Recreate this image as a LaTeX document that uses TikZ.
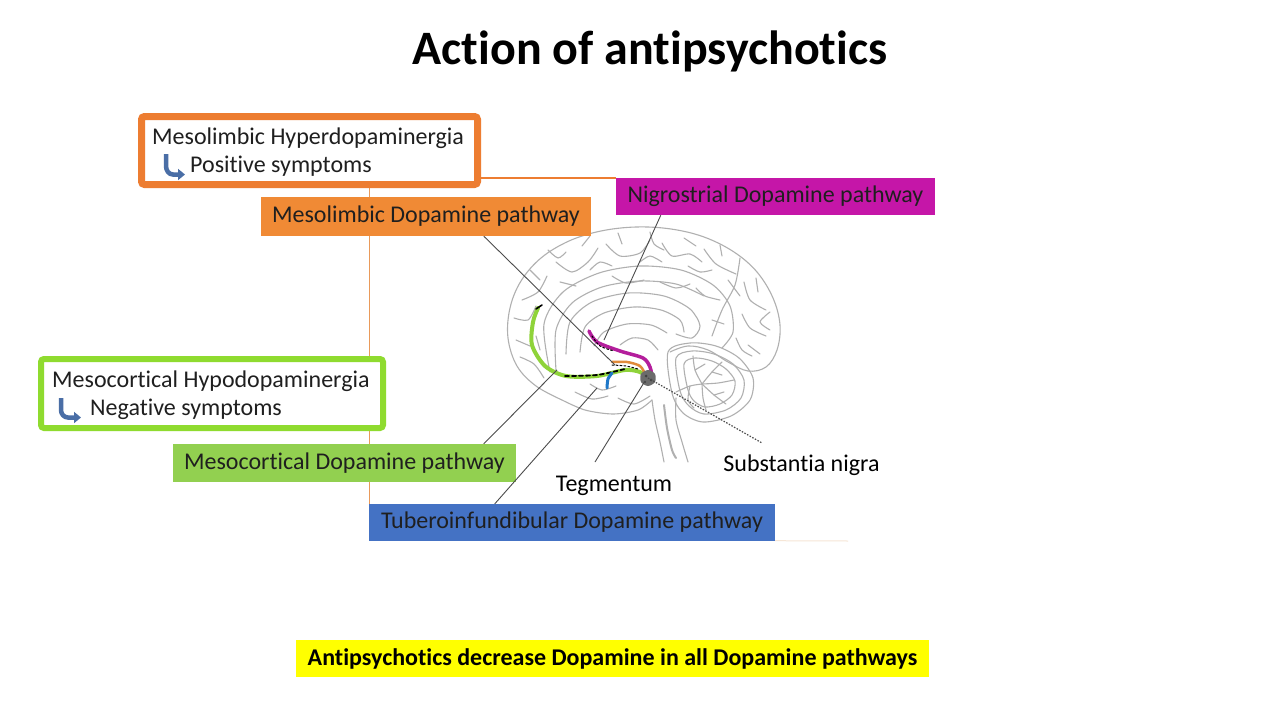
\documentclass[tikz,border=0pt]{standalone}
\usepackage{fontspec}
\setmainfont{Carlito}[Ligatures={NoCommon}]
\usetikzlibrary{arrows.meta,calc}
\definecolor{orgA}{HTML}{ED7D31}
\definecolor{orgFill}{HTML}{F08A35}
\definecolor{orgThin}{HTML}{E99A5A}
\definecolor{faint}{HTML}{F6E6D6}
\definecolor{mag}{HTML}{C516A8}
\definecolor{grnB}{HTML}{8FDB2F}
\definecolor{grnF}{HTML}{92D050}
\definecolor{bluF}{HTML}{4472C4}
\definecolor{yel}{HTML}{FFFF00}
\definecolor{brain}{HTML}{B0B0B0}
\definecolor{arw}{HTML}{4A6EA6}
\definecolor{pGreen}{HTML}{8FD33A}
\definecolor{pMag}{HTML}{B41E9C}
\definecolor{pOrg}{HTML}{E08A3A}
\definecolor{pBlue}{HTML}{1F78C8}
\pgfdeclarelayer{bg}
\pgfdeclarelayer{lines}
\pgfsetlayers{bg,lines,main}
\begin{document}
\begin{tikzpicture}[x=1pt,y=-1pt,
  lbl/.style={font=\fontsize{24}{28}\selectfont, text=black!88, inner sep=0pt},
  pbox/.style={lbl, inner sep=0pt, align=center},
  obox/.style={draw, fill=white, inner sep=0pt, rounded corners=3pt},
  brainline/.style={draw=brain, line width=1.1pt, line cap=round, line join=round},
  leader/.style={draw=black!70, line width=0.9pt},
  pathw/.style={line cap=round, line join=round},
  arwicon/.style={draw=arw, line width=4.5pt, -{Triangle[length=7pt,width=11pt]}}
]
\begin{pgfonlayer}{bg}
\fill[white] (0,0) rectangle (1280,720);
\end{pgfonlayer}
\useasboundingbox (0,0) rectangle (1280,720);

% ---------------- brain drawing ----------------
\begin{scope}[brainline]
% cerebrum outline
\draw plot[smooth, tension=0.6] coordinates {(562,400) (536,386) (517,366) (508,338) (510,308) (521,281) (541,258) (569,241) (601,231) (636,227) (671,229) (704,237) (734,252) (757,272) (773,298) (780,325) (777,350) (766,367) (748,371) (728,362) (708,350) (688,346) (670,352)};
% base / temporal
\draw plot[smooth] coordinates {(562,400) (585,410) (613,414) (638,410) (652,400)};
\draw plot[smooth] coordinates {(575,392) (592,399) (608,396)};
\draw plot[smooth] coordinates {(618,398) (634,404) (650,396)};
\draw plot[smooth] coordinates {(590,384) (602,390) (616,386)};
% brainstem
\draw plot[smooth] coordinates {(652,400) (655,420) (660,442) (664,462)};
\draw plot[smooth] coordinates {(676,398) (676,420) (682,442) (688,462)};
\draw[line width=2pt] plot[smooth] coordinates {(664,405) (667,428) (672,450) (676,458)};
% cerebellum
\draw plot[smooth cycle] coordinates {(668,352) (690,343) (716,346) (739,358) (753,378) (750,400) (731,416) (703,422) (683,413) (672,393)};
\draw plot[smooth cycle] coordinates {(676,358) (692,351) (714,354) (733,364) (744,380) (741,398) (726,410) (704,414) (689,406) (680,391)};
\draw plot[smooth cycle] coordinates {(684,364) (695,358) (712,361) (726,369) (735,381) (732,395) (720,404) (705,407) (694,401) (688,390)};
\draw plot[smooth] coordinates {(676,392) (690,386) (702,384)};
\draw plot[smooth] coordinates {(702,384) (712,372) (722,362)};
\draw plot[smooth] coordinates {(702,384) (718,383) (734,380)};
\draw plot[smooth] coordinates {(702,384) (714,395) (726,404)};
\draw plot[smooth] coordinates {(702,384) (703,398) (706,410)};
\draw plot[smooth] coordinates {(702,384) (695,370) (693,356)};
\draw plot[smooth] coordinates {(712,372) (722,375)};
\draw plot[smooth] coordinates {(714,395) (724,392)};
\draw plot[smooth] coordinates {(695,370) (705,364)};
\draw plot[smooth] coordinates {(690,386) (688,400) (694,408)};
% corpus callosum & fornix
\draw plot[smooth] coordinates {(566,354) (570,322) (592,302) (628,293) (664,296) (690,309) (700,326) (692,338) (676,334)};
\draw plot[smooth] coordinates {(580,352) (585,327) (604,313) (634,307) (661,310) (680,320) (684,332)};
\draw plot[smooth] coordinates {(594,346) (604,332) (627,324) (651,325) (667,333)};
% cingulate
\draw plot[smooth] coordinates {(550,372) (544,324) (563,292) (599,273) (640,266) (681,270) (713,285) (730,306) (733,332) (722,348)};
\draw plot[smooth] coordinates {(556,370) (556,330) (572,303) (602,287) (640,281) (676,284) (704,296)};
% gyri
\draw plot[smooth] coordinates {(522,300) (538,292) (547,276)};
\draw plot[smooth] coordinates {(556,262) (572,272) (588,262) (598,248)};
\draw plot[smooth] coordinates {(606,244) (620,256) (640,253) (650,240)};
\draw plot[smooth] coordinates {(662,243) (672,256) (690,254) (702,262)};
\draw plot[smooth] coordinates {(704,249) (716,264) (736,274)};
\draw plot[smooth] coordinates {(740,258) (735,285) (722,310) (712,336)};
\draw plot[smooth] coordinates {(744,282) (750,300) (766,310)};
\draw plot[smooth] coordinates {(742,314) (750,328) (766,336)};
\draw plot[smooth] coordinates {(748,345) (760,354)};
\draw plot[smooth] coordinates {(514,318) (528,320) (536,306)};
\draw plot[smooth] coordinates {(516,340) (530,346)};
\draw plot[smooth] coordinates {(520,357) (534,364) (544,378)};
\draw plot[smooth] coordinates {(560,282) (576,286)};
\draw plot[smooth] coordinates {(612,276) (626,283) (644,280)};
\draw plot[smooth] coordinates {(660,282) (676,288) (690,284)};
\draw plot[smooth] coordinates {(582,246) (590,236)};
\draw plot[smooth] coordinates {(684,238) (696,246)};
\draw plot[smooth] coordinates {(720,300) (705,296) (696,288)};
\draw plot[smooth] coordinates {(620,345) (632,338) (648,340) (658,350)};
\draw plot[smooth] coordinates {(530,270) (540,280)};
\draw plot[smooth] coordinates {(548,250) (558,258) (566,252)};
\draw plot[smooth] coordinates {(618,233) (622,244)};
\draw plot[smooth] coordinates {(650,232) (654,244) (664,250)};
\draw plot[smooth] coordinates {(720,245) (722,256)};
\draw plot[smooth] coordinates {(756,278) (758,292)};
\draw plot[smooth] coordinates {(770,312) (760,322) (770,330)};
\draw plot[smooth] coordinates {(728,280) (740,296)};
\draw plot[smooth] coordinates {(688,266) (700,272) (712,270)};
\draw plot[smooth] coordinates {(640,262) (650,256) (662,262)};
\draw plot[smooth] coordinates {(590,270) (600,262) (612,266)};
\draw plot[smooth] coordinates {(536,336) (540,350)};
\draw plot[smooth] coordinates {(752,356) (742,350) (736,338)};
\draw plot[smooth] coordinates {(712,320) (724,324)};
\end{scope}

% ---------------- pathways ----------------
\draw[pathw, pGreen, line width=4pt] plot[smooth] coordinates {(538,308) (533,322) (532,345) (545,366) (566,376) (597,376) (625,370) (640,372) (648,378)};
\draw[pathw, black, line width=1.8pt, dash pattern=on 4pt off 3pt] plot[smooth] coordinates {(565,376) (597,375) (625,369)};
\draw[pathw, black, line width=1.6pt] (536,309) -- (542,305);
\draw[pathw, pMag, line width=3.5pt] plot[smooth] coordinates {(589,331) (597,342) (620,351) (643,358) (650,367) (652,377)};
\draw[pathw, black, line width=1pt, dash pattern=on 2pt off 2pt] plot[smooth] coordinates {(592,336) (600,346) (614,351)};
\draw[pathw, pOrg, line width=2.5pt] plot[smooth] coordinates {(612,362) (627,362) (640,366) (645,374)};
\draw[pathw, black, line width=1pt, dash pattern=on 2pt off 2pt] plot[smooth] coordinates {(612,365) (626,366) (638,369)};
\draw[pathw, pBlue, line width=3pt] plot[smooth] coordinates {(612,373) (608,379) (607,388)};
\fill[black!58] plot[smooth cycle] coordinates {(641,374) (648,370) (655,374) (655,382) (648,386) (641,382)};
\fill[black!75] (646,376) circle (1.5) (651,380) circle (1.5) (645,382) circle (1.2);

% ---------------- brain coordinates ----------------
\coordinate (nacc) at (615,365);
\coordinate (striat) at (604,340);
\coordinate (vta) at (648,378);
\coordinate (tegm) at (645,381);
\coordinate (pfc) at (557,370);
\coordinate (hypo) at (597,388);
\coordinate (tegend) at (595,462);
\coordinate (snend) at (762,443);
\coordinate (faintend) at (848,541);

% ---------------- title ----------------
\node[font=\fontsize{48}{56}\selectfont\bfseries, inner sep=0pt, anchor=base] (title) at (650,64) {Action of antipsychotics};

% ---------------- outlined boxes ----------------
\node[obox, draw=orgA, line width=7pt, minimum width=336pt, minimum height=68pt] (mlh) at (309.5,150.5) {};
\node[lbl, anchor=base west] (mlh1) at (152,144) {Mesolimbic Hyperdopaminergia};
\node[lbl, anchor=base west] (mlh2) at (190,172) {Positive symptoms};
\draw[arwicon] (166,154) -- (166,166) to[out=-90,in=180] (173,174.5) -- (185,174.5);

\node[obox, draw=grnB, line width=6pt, minimum width=342pt, minimum height=69pt] (mch) at (212,393.5) {};
\node[lbl, anchor=base west] (mch1) at (52,387) {Mesocortical Hypodopaminergia};
\node[lbl, anchor=base west] (mch2) at (90,415) {Negative symptoms};
\draw[arwicon] (61,398) -- (61,410) to[out=-90,in=180] (68,417.5) -- (81,417.5);

% ---------------- pathway boxes ----------------
\node[pbox, fill=orgFill, minimum width=330pt, minimum height=39pt] (mlp) at (426,216.5) {Mesolimbic Dopamine pathway};
\node[pbox, fill=mag, minimum width=319pt, minimum height=37pt] (nsp) at (775.5,196.5) {Nigrostrial Dopamine pathway};
\node[pbox, fill=grnF, minimum width=343pt, minimum height=38pt] (mcp) at (344.5,463) {Mesocortical Dopamine pathway};
\node[pbox, fill=bluF, minimum width=406pt, minimum height=37pt] (tip) at (572,522.5) {Tuberoinfundibular Dopamine pathway};
\node[font=\fontsize{24}{28}\selectfont\bfseries, fill=yel, inner sep=0pt, minimum width=633pt, minimum height=37pt] (yb) at (612.5,658.5) {Antipsychotics decrease Dopamine in all Dopamine pathways};

% ---------------- plain labels ----------------
\node[lbl, text=black, anchor=base] (teg) at (614,491) {Tegmentum};
\node[lbl, text=black, anchor=base] (snl) at (801.5,471) {Substantia nigra};

% ---------------- connectors ----------------
\begin{pgfonlayer}{lines}
\draw[orgThin, line width=1.2pt] ([xshift=1pt]mlh.south -| tip.north west) -- ([xshift=1pt]tip.north west);
\end{pgfonlayer}
\draw[orgA, line width=1.6pt] (mlh.east |- nsp.north west) -- (nsp.north west);
\draw[faint, line width=1pt] ([yshift=0.5pt]tip.south east) -- (faintend);
\draw[leader] ([xshift=223pt]mlp.south west) -- (nacc);
\draw[leader] ([xshift=45pt]nsp.south west) -- (striat);
\draw[leader] ([xshift=311pt]mcp.north west) -- (pfc);
\draw[leader] ([xshift=126pt]tip.north west) -- (hypo);
\draw[leader] (tegm) -- (tegend);
\draw[leader, dash pattern=on 1.5pt off 1.5pt, line width=1.2pt] (vta) -- (snend);
\end{tikzpicture}
\end{document}
